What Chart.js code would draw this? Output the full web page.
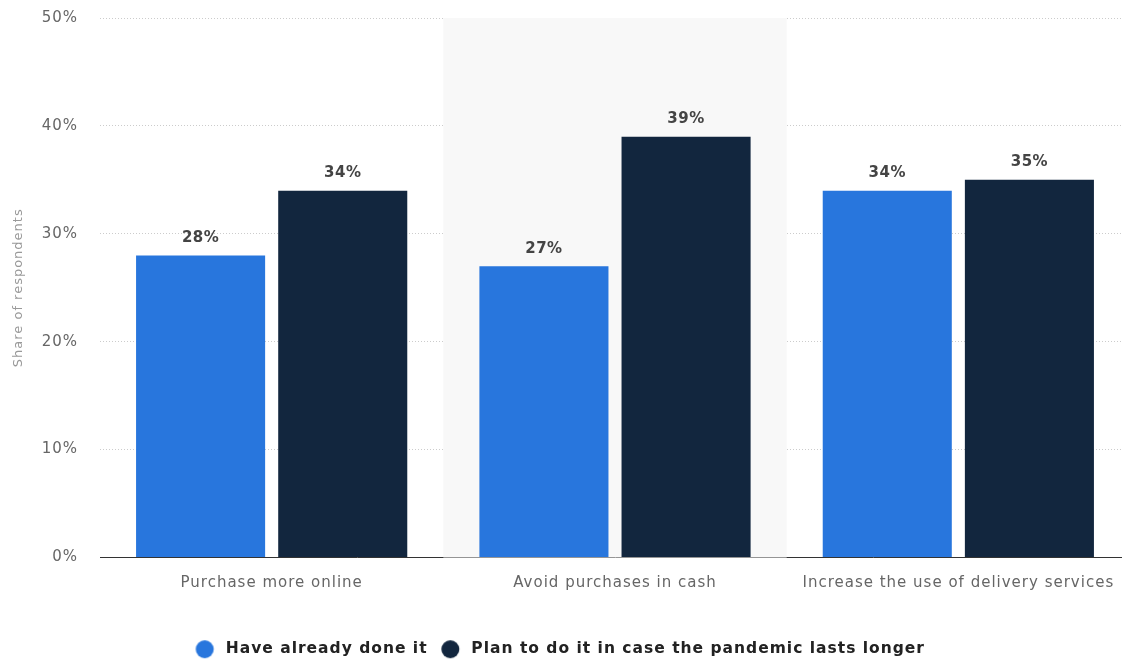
<!DOCTYPE html>
<html>
<head>
    <meta charset="utf-8">
    <title>Pandemic shopping behaviour</title>
    <script src="https://cdn.jsdelivr.net/npm/chart.js"></script>
    <style>
        html, body { margin: 0; padding: 0; background: #fff; overflow: hidden; }
        #wrap { width: 1130px; height: 660px; position: relative; }
    </style>
</head>
<body>
    <div id="wrap"><canvas id="chart"></canvas></div>

    <script>
        // chart data
        var categories = ['Purchase more online', 'Avoid purchases in cash', 'Increase the use of delivery services'];
        var seriesNames = ['Have already done it', 'Plan to do it in case the pandemic lasts longer'];
        var alreadyDone = [28, 27, 34];
        var planToDo = [34, 39, 35];
        var yTicks = [0, 10, 20, 30, 40, 50];
        var colors = ['#2876dd', '#12263e'];

        var FONT = '"DejaVu Sans", Verdana, sans-serif';

        // legend dot: circle sits on the left of a wider canvas so the text gets more room
        function makeDot(color) {
            var c = document.createElement('canvas');
            c.width = 40;
            c.height = 20;
            var g = c.getContext('2d');
            g.fillStyle = color;
            g.beginPath();
            g.arc(13.25, 10, 9, 0, Math.PI * 2);
            g.fill();
            return c;
        }
        var dots = colors.map(makeDot);

        // the reference text is a bit spaced out; canvas resize wipes ctx state so set it each pass
        var spacingPlugin = {
            id: 'spacing',
            beforeUpdate: function(chart) { chart.ctx.letterSpacing = '1px'; },
            beforeDraw: function(chart) { chart.ctx.letterSpacing = '1px'; }
        };

        // light grey band behind the middle category
        var bandPlugin = {
            id: 'band',
            beforeDatasetsDraw: function(chart) {
                var ctx = chart.ctx, x = chart.scales.x, area = chart.chartArea;
                var w = x.getPixelForValue(1) - x.getPixelForValue(0);
                var cx = x.getPixelForValue(1);
                ctx.save();
                ctx.fillStyle = '#f8f8f8';
                ctx.fillRect(cx - w / 2, area.top, w, area.bottom - area.top);
                ctx.restore();
            }
        };

        // value labels over the bars
        var labelPlugin = {
            id: 'valueLabels',
            afterDatasetsDraw: function(chart) {
                var ctx = chart.ctx;
                ctx.save();
                ctx.font = 'bold 15px ' + FONT;
                ctx.letterSpacing = '0.5px';
                ctx.fillStyle = '#444';
                ctx.textAlign = 'center';
                ctx.textBaseline = 'bottom';
                chart.data.datasets.forEach(function(ds, i) {
                    chart.getDatasetMeta(i).data.forEach(function(bar, j) {
                        ctx.fillText(ds.data[j] + '%', bar.x, bar.y - 10);
                    });
                });
                ctx.restore();
            }
        };

        new Chart(document.getElementById('chart'), {
            type: 'bar',
            data: {
                labels: categories,
                datasets: [{
                    label: seriesNames[0],
                    data: alreadyDone,
                    backgroundColor: colors[0],
                    categoryPercentage: 0.828,
                    barPercentage: 0.908
                }, {
                    label: seriesNames[1],
                    data: planToDo,
                    backgroundColor: colors[1],
                    categoryPercentage: 0.828,
                    barPercentage: 0.908
                }]
            },
            options: {
                responsive: true,
                maintainAspectRatio: false,
                animation: false,
                layout: { padding: { top: 18, right: 0, left: 0, bottom: -7 } },
                plugins: {
                    tooltip: { enabled: false },
                    legend: {
                        position: 'bottom',
                        labels: {
                            usePointStyle: true,
                            boxWidth: 13,
                            boxHeight: 13,
                            padding: 23,
                            color: '#222',
                            font: { family: FONT, size: 15.5, weight: 'bold' },
                            generateLabels: function(chart) {
                                var items = Chart.defaults.plugins.legend.labels.generateLabels(chart);
                                items.forEach(function(it, i) { it.pointStyle = dots[i]; });
                                return items;
                            }
                        }
                    }
                },
                scales: {
                    x: {
                        grid: { display: false },
                        border: { color: '#333', width: 1 },
                        afterFit: function(axis) { axis.height = 61; },
                        ticks: { color: '#666', padding: 9, font: { family: FONT, size: 15 } }
                    },
                    y: {
                        min: 0,
                        max: 50,
                        afterBuildTicks: function(axis) {
                            axis.ticks = yTicks.map(function(v) { return { value: v }; });
                        },
                        afterFit: function(axis) {
                            axis.width = 100;
                            axis.paddingTop = 0;
                            axis.paddingBottom = 0;
                        },
                        border: { display: false, dash: [1, 2] },
                        grid: { color: '#ccc', drawTicks: false },
                        ticks: {
                            color: '#666',
                            padding: 22,
                            font: { family: FONT, size: 15 },
                            callback: function(v) { return v + '%'; }
                        },
                        title: {
                            display: true,
                            text: 'Share of respondents',
                            color: '#999',
                            padding: { top: 11, bottom: 0 },
                            font: { family: FONT, size: 13 }
                        }
                    }
                }
            },
            plugins: [spacingPlugin, bandPlugin, labelPlugin]
        });
    </script>
</body>
</html>
